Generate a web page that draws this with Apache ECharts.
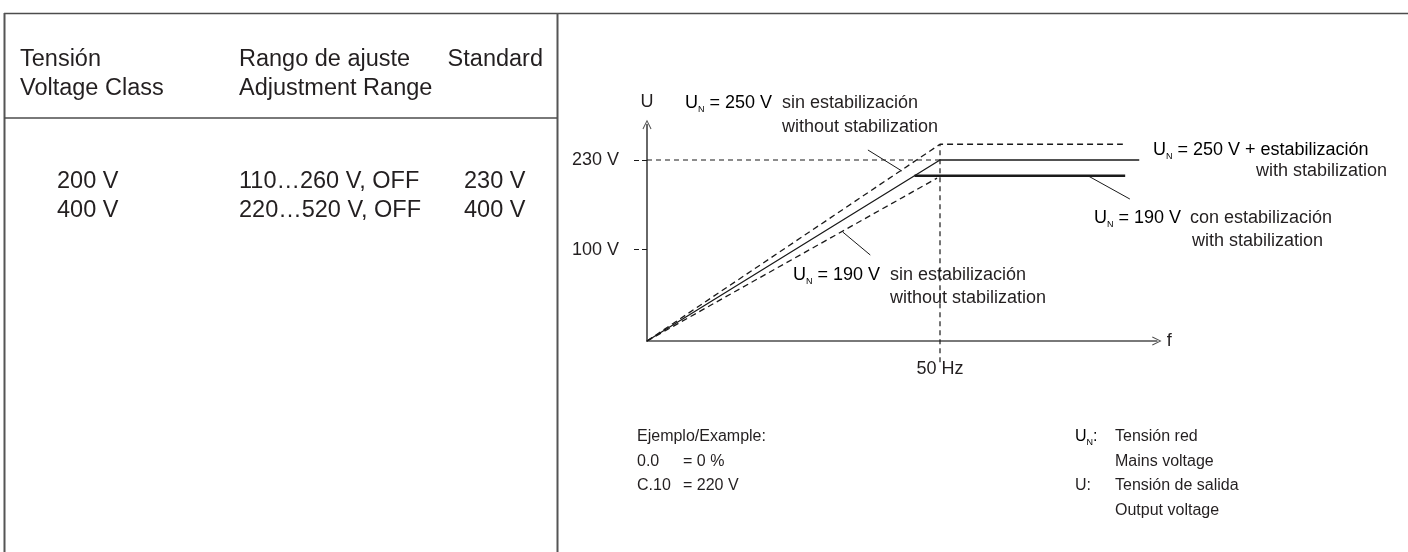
<!DOCTYPE html>
<html>
<head>
<meta charset="utf-8">
<script src="https://cdn.jsdelivr.net/npm/echarts@6/dist/echarts.min.js"></script>
<style>
html,body{margin:0;padding:0;background:#fff;}
#c{width:1408px;height:552px;}
</style>
</head>
<body>
<div id="c"></div>
<script>
// ---------- table data ----------
const headTension = ['Tensión', 'Voltage Class'];
const headRange = ['Rango de ajuste', 'Adjustment Range'];
const headStandard = ['Standard'];
const voltageClass = ['200 V', '400 V'];
const adjustRange = ['110…260 V, OFF', '220…520 V, OFF'];
const standardV = ['230 V', '400 V'];

// ---------- diagram data (f in Hz, U in schematic volts) ----------
const u250sinF = [0, 50, 81.2];   const u250sinU = [0, 250, 250];
const u250conF = [0, 50, 84];     const u250conU = [0, 230, 230];
const u190conF = [45.65, 81.6];   const u190conU = [210, 210];
const u190sinF = [0, 49.5];       const u190sinU = [0, 207];
const guide230F = [0, 50];        const guide230U = [230, 230];
const guide50F = [50, 50];        const guide50U = [-27, 250];
const leaderAF = [37.7, 43.5];    const leaderAU = [242.7, 216.0];
const leaderBF = [33.4, 38.1];    const leaderBU = [138.5, 109.3];
const leaderCF = [75.3, 82.4];    const leaderCU = [209.7, 180.4];
const yTickValues = [116, 230];   const yTickLabels = ['100 V', '230 V'];
const xTickValues = [50];         const xTickLabels = ['50 Hz'];

const FONT = '"Liberation Sans", Arial, Helvetica, sans-serif';
const TXT = '#231f20';
const pairs = (xs, ys) => xs.map((x, i) => [x, ys[i]]);

const chart = echarts.init(document.getElementById('c'), null, {renderer: 'canvas'});

const arrowPath = 'path://M0,0 L6,12 L4.8,12.6 L0,2.6 L-4.8,12.6 L-6,12 Z';

function lineSeries(xs, ys, type, width, clip) {
  return {
    type: 'line', data: pairs(xs, ys), symbol: 'none', silent: true,
    clip: clip !== false, animation: false,
    lineStyle: {color: '#1a1a1a', width: width, type: type}
  };
}

const TS = 23.5; // table font
const CS = 18; // chart annotation font
const BS = 16; // bottom notes font

function txt(text, x, y, size, align) {
  return {type: 'text', silent: true, style: {text: text, x: x, y: y, fill: TXT,
    font: size + 'px ' + FONT, align: align || 'left', verticalAlign: 'middle'}};
}
function rtxt(text, x, y, size, align) {
  return {type: 'text', silent: true, style: {text: text, x: x, y: y,
    align: align || 'left', verticalAlign: 'middle',
    rich: {
      b: {fontSize: size, fontFamily: FONT, color: TXT, lineHeight: size + 4, verticalAlign: 'middle'},
      s: {fontSize: 9, fontFamily: FONT, color: TXT, lineHeight: size + 4, verticalAlign: 'bottom'}
    }}};
}
function hline(x1, x2, y, w) {
  return {type: 'line', silent: true, shape: {x1: x1, y1: y, x2: x2, y2: y}, style: {stroke: '#4d4d4d', lineWidth: w || 1.5}};
}
function vline(x, y1, y2, w) {
  return {type: 'line', silent: true, shape: {x1: x, y1: y1, x2: x, y2: y2}, style: {stroke: '#555', lineWidth: w || 1.5}};
}

const graphics = [
  hline(4, 1408, 13.5), vline(4.5, 13, 552, 2), vline(557.5, 13, 552, 2), hline(4, 557, 118),
];
headTension.forEach((t, i) => graphics.push(txt(t, 20, 60 + i * 29, TS)));
headRange.forEach((t, i) => graphics.push(txt(t, 239, 60 + i * 29, TS)));
headStandard.forEach((t, i) => graphics.push(txt(t, 543, 60 + i * 29, TS, 'right')));
voltageClass.forEach((t, i) => graphics.push(txt(t, 57, 182 + i * 29, TS)));
adjustRange.forEach((t, i) => graphics.push(txt(t, 239, 182 + i * 29, TS)));
standardV.forEach((t, i) => graphics.push(txt(t, 464, 182 + i * 29, TS)));

// chart annotations
graphics.push(rtxt('{b|U}{s|N}{b| = 250 V}', 685, 103, CS));
graphics.push(txt('sin estabilización', 782, 103, CS));
graphics.push(txt('without stabilization', 782, 127, CS));
graphics.push(rtxt('{b|U}{s|N}{b| = 250 V + estabilización}', 1153, 150, CS));
graphics.push(txt('with stabilization', 1387, 171, CS, 'right'));
graphics.push(rtxt('{b|U}{s|N}{b| = 190 V}', 1094, 218, CS));
graphics.push(txt('con estabilización', 1190, 218, CS));
graphics.push(txt('with stabilization', 1192, 241, CS));
graphics.push(rtxt('{b|U}{s|N}{b| = 190 V}', 793, 275, CS));
graphics.push(txt('sin estabilización', 890, 275, CS));
graphics.push(txt('without stabilization', 890, 298, CS));

// bottom notes
graphics.push(txt('Ejemplo/Example:', 637, 437, BS));
graphics.push(txt('0.0', 637, 462, BS));
graphics.push(txt('= 0 %', 683, 462, BS));
graphics.push(txt('C.10', 637, 486, BS));
graphics.push(txt('= 220 V', 683, 486, BS));
graphics.push(rtxt('{b|U}{s|N}{b|:}', 1075, 437, BS));
graphics.push(txt('Tensión red', 1115, 437, BS));
graphics.push(txt('Mains voltage', 1115, 462, BS));
graphics.push(txt('U:', 1075, 486, BS));
graphics.push(txt('Tensión de salida', 1115, 486, BS));
graphics.push(txt('Output voltage', 1115, 511, BS));

const X_MAX = 87, Y_MAX = 275;
const PX_PER_HZ = 5.86, PX_PER_V = 0.78696;

chart.setOption({
  animation: false,
  backgroundColor: '#fff',
  grid: {left: 647, top: 341 - Y_MAX * PX_PER_V, width: X_MAX * PX_PER_HZ, height: Y_MAX * PX_PER_V,
         outerBoundsMode: 'none', containLabel: false},
  xAxis: {
    type: 'value', min: 0, max: X_MAX,
    name: 'f', nameLocation: 'end', nameGap: 10,
    nameTextStyle: {fontSize: CS, fontFamily: FONT, color: TXT, verticalAlign: 'middle'},
    axisLine: {show: true, onZero: true, symbol: ['none', arrowPath], symbolSize: [9, 12],
               lineStyle: {color: '#4d4d4d', width: 1.7}},
    axisTick: {show: false},
    splitLine: {show: false},
    axisLabel: {customValues: xTickValues, margin: 19, fontSize: CS, fontFamily: FONT, color: TXT,
                formatter: v => { const i = xTickValues.indexOf(v); return i >= 0 ? xTickLabels[i] : ''; }}
  },
  yAxis: {
    type: 'value', min: 0, max: Y_MAX,
    name: 'U', nameLocation: 'end', nameGap: 14,
    nameTextStyle: {fontSize: CS, fontFamily: FONT, color: TXT, align: 'center'},
    axisLine: {show: true, onZero: true, symbol: ['none', arrowPath], symbolSize: [9, 12],
               lineStyle: {color: '#4d4d4d', width: 1.7}},
    axisTick: {show: true, customValues: yTickValues, length: 15, inside: false,
               lineStyle: {color: '#1a1a1a', width: 1.2, type: [5, 3]}},
    splitLine: {show: false},
    axisLabel: {customValues: yTickValues, margin: 28, fontSize: CS, fontFamily: FONT, color: TXT,
                formatter: v => { const i = yTickValues.indexOf(v); return i >= 0 ? yTickLabels[i] : ''; }}
  },
  series: [
    lineSeries(guide230F, guide230U, [5, 4], 1.2),
    lineSeries(guide50F, guide50U, [5, 4], 1.2, false),
    lineSeries(u250sinF, u250sinU, [6, 4], 1.3),
    lineSeries(u190sinF, u190sinU, [6, 4], 1.3),
    lineSeries(u250conF, u250conU, 'solid', 1.3),
    lineSeries(u190conF, u190conU, 'solid', 2.6),
    lineSeries(leaderAF, leaderAU, 'solid', 1),
    lineSeries(leaderBF, leaderBU, 'solid', 1),
    lineSeries(leaderCF, leaderCU, 'solid', 1)
  ],
  graphic: graphics
});
</script>
</body>
</html>
